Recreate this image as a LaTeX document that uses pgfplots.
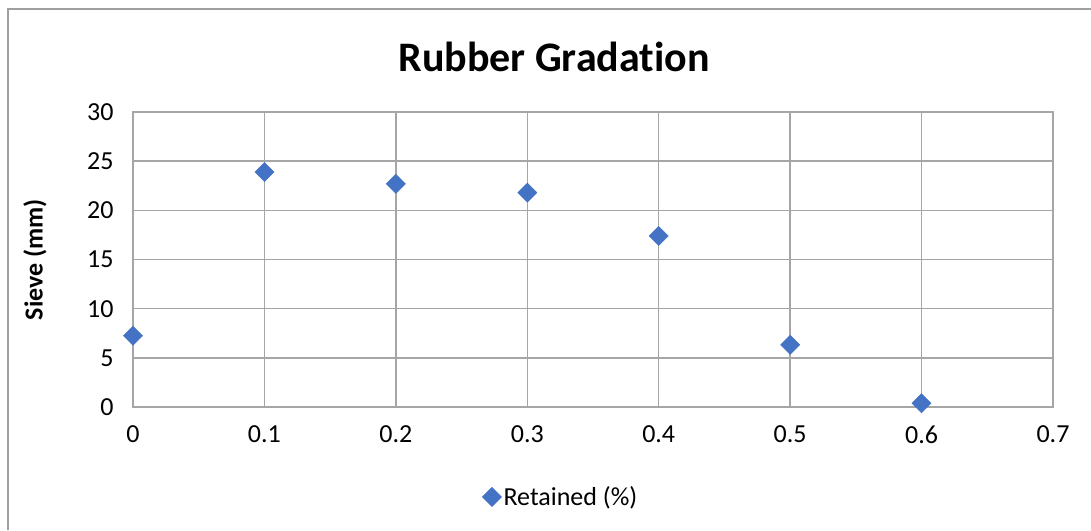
\documentclass[border=0pt]{standalone}
\usepackage{pgfplots}
\pgfplotsset{compat=1.18}
\usepackage{fontspec}
\setmainfont[Ligatures=NoCommon]{Carlito}
\definecolor{markblue}{HTML}{4472C4}
\definecolor{gridgray}{HTML}{A6A6A6}
\definecolor{framegray}{HTML}{A0A0A0}
\begin{document}
\begin{tikzpicture}
\useasboundingbox (0,0) rectangle (1091pt,530pt);
% chart frame
\draw[framegray, line width=2pt] (7.5pt,0pt) -- (7.5pt,520.5pt) -- (1091pt,520.5pt);
% title
\node[font=\fontsize{42}{50}\selectfont\bfseries] at (554pt,473pt) {Rubber Gradation};
\begin{axis}[
  at={(133pt,123pt)}, anchor=south west,
  scale only axis, width=920pt, height=295pt,
  xmin=0, xmax=0.7, ymin=0, ymax=30,
  xtick={0,0.1,0.2,0.3,0.4,0.5,0.6,0.7},
  xticklabels={0,0.1,0.2,0.3,0.4,0.5,0.6,0.7},
  ytick={0,5,10,15,20,25,30},
  grid=major,
  grid style={gridgray, line width=1.4pt},
  axis line style={gridgray, line width=1.4pt},
  major tick length=0pt,
  tick label style={font=\fontsize{26}{31}\selectfont},
  /pgf/number format/assume math mode=true,
  xticklabel style={yshift=-15pt},
  yticklabel style={xshift=-16pt},
  ylabel={Sieve (mm)},
  ylabel style={font=\fontsize{26}{31}\selectfont\bfseries, at={(axis description cs:-0.1065,0.5)}, anchor=center},
  clip=false,
  legend style={draw=none, at={(axis description cs:0.465,-0.305)}, anchor=center, font=\fontsize{26}{31}\selectfont,
    legend image code/.code={\draw[#1] plot coordinates {(-4pt,0pt)};}},
  legend cell align=left,
]
\addplot[only marks, mark=square*, mark size=6.8pt, mark options={rotate=45, fill=markblue, draw=markblue}]
  coordinates {(0,7.25) (0.1,23.9) (0.2,22.7) (0.3,21.8) (0.4,17.4) (0.5,6.33) (0.6,0.38)};
\addlegendentry{Retained (\%)}
\end{axis}
\end{tikzpicture}
\end{document}
